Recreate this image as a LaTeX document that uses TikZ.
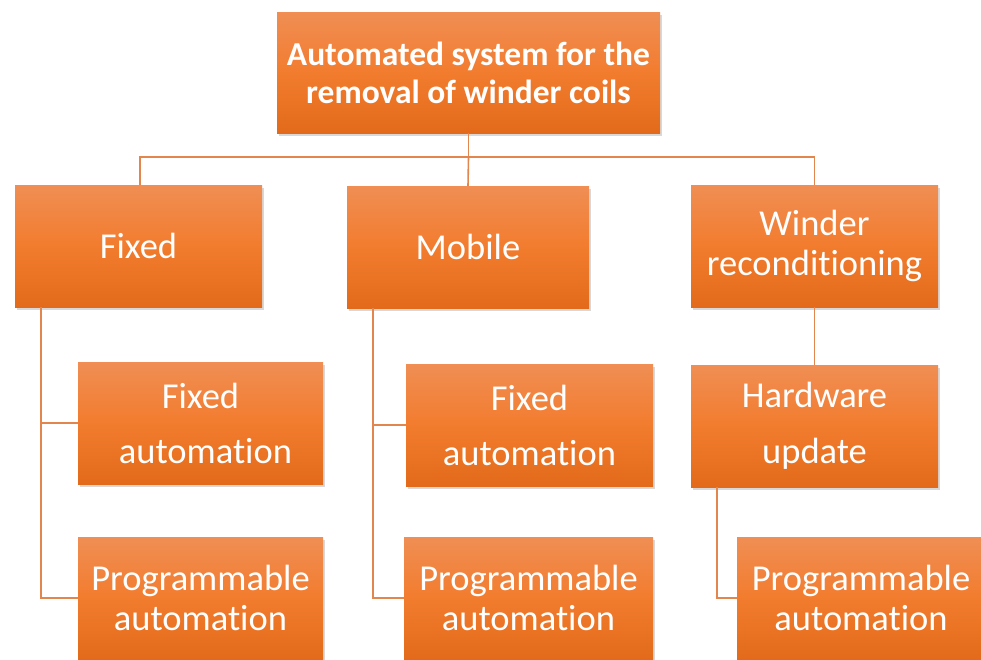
\documentclass[tikz,border=0pt]{standalone}
\usepackage{fontspec}
\setmainfont{Carlito}[RawFeature={-liga;-clig;-calt;-dlig}]
\usetikzlibrary{shadows}
\definecolor{boxtop}{RGB}{240,142,84}
\definecolor{boxmid}{RGB}{242,124,46}
\definecolor{boxbot}{RGB}{226,106,26}
\definecolor{linkcol}{RGB}{226,134,78}
\tikzset{
  box/.style={rectangle,inner sep=0pt,minimum width=247pt,minimum height=122pt,
    align=center,text=white,font=\fontsize{36.5}{40}\selectfont,
    top color=boxtop,bottom color=boxbot,middle color=boxmid,
    drop shadow={shadow xshift=1.5pt,shadow yshift=-2.5pt,opacity=0.3}},
  rootbox/.style={box,minimum width=383pt,minimum height=121pt,
    font=\fontsize{33.5}{38}\selectfont\bfseries},
  link/.style={draw=linkcol,line width=1.6pt},
}
\begin{document}
\begin{tikzpicture}[x=1pt,y=-1pt]
  \clip (0,0) rectangle (981,659);
  \fill[white] (0,0) rectangle (981,659);
  % top level
  \node[rootbox] (root) at (468.5,72.5) {Automated system for the\\removal of winder coils};
  \coordinate (bus) at (468.5,157);
  % second level
  \node[box] (fixed) at (138.5,246) {Fixed};
  \node[box,minimum width=242pt] (mobile) at (468,247) {Mobile};
  \node[box] (winder) at (814.5,246) {Winder\\reconditioning};
  % third level
  \node[box,minimum width=245pt] (fixauto1) at (200.5,423) {Fixed\\[15pt]\hspace{10pt}automation};
  \node[box,minimum width=245pt] (progauto1) at (200.5,598) {Programmable\\automation};
  \node[box] (fixauto2) at (529.5,425) {Fixed\\[15pt]automation};
  \node[box,minimum width=249pt] (progauto2) at (528.5,598) {Programmable\\automation};
  \node[box] (hardware) at (814.5,426) {Hardware\\[16pt]update};
  \node[box,minimum width=248pt] (progauto3) at (861,598) {Programmable\\automation};
  % connectors
  \draw[link] (root.south) -- (bus);
  \draw[link] ([xshift=1.5pt]fixed.north) |- (bus) -| (winder.north);
  \draw[link] (bus) -- (mobile.north);
  \draw[link] ([xshift=26pt]fixed.south west) |- (fixauto1.west);
  \draw[link] ([xshift=26pt]fixed.south west) |- (progauto1.west);
  \draw[link] ([xshift=26pt]mobile.south west) |- (fixauto2.west);
  \draw[link] ([xshift=26pt]mobile.south west) |- (progauto2.west);
  \draw[link] (winder.south) -- (hardware.north);
  \draw[link] ([xshift=26pt]hardware.south west) |- (progauto3.west);
\end{tikzpicture}
\end{document}
